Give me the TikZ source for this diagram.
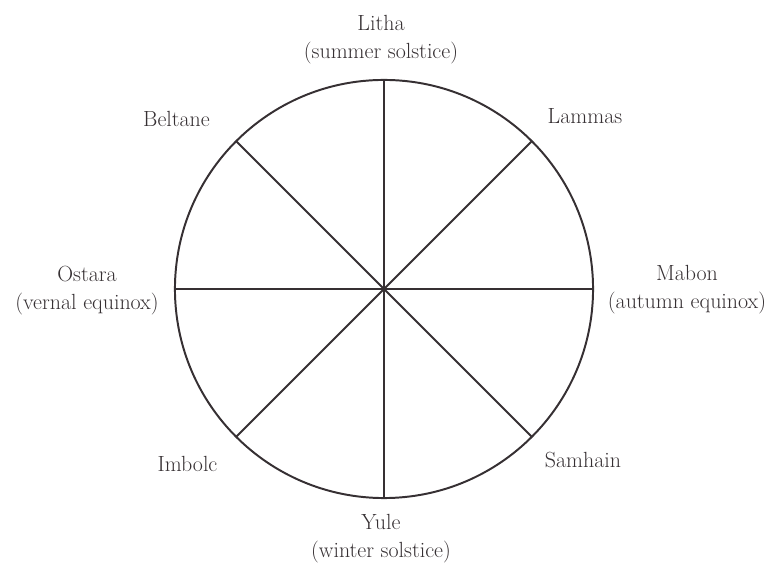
\documentclass[tikz,border=0pt]{standalone}
\usepackage{xcolor}
\usepackage{tikz}
\usetikzlibrary{positioning}
\definecolor{inkgray}{HTML}{363033}
\tikzset{
  wheel/.style={circle, draw=inkgray, line width=1.4pt, inner sep=0pt, outer sep=0pt, minimum size=10.45cm},
  spoke/.style={draw=inkgray, line width=1.4pt},
  sabbat/.style={text=inkgray, align=center, inner sep=0pt, font=\fontsize{15.6}{19.9}\selectfont}
}
\begin{document}
\begin{tikzpicture}[x=0.025cm, y=-0.025cm]
\useasboundingbox (0,0) rectangle (771,563);
\node[wheel] (w) at (384,289) {};

\foreach \a/\b in {0/180, 45/225, 90/270, 135/315}
  \draw[spoke] (w.\a) -- (w.\b);

% two-line labels
\node[sabbat] (litha) at (381,40) {Litha\\(summer solstice)};
\node[sabbat] (ostara) at (87,291) {Ostara\\(vernal equinox)};
\node[sabbat] (mabon) at (687,290) {Mabon\\(autumn equinox)};
\node[sabbat] (yule) at (381,539) {Yule\\(winter solstice)};

% one-line labels
\node[sabbat, anchor=base] (beltane) at (176.5,127) {Beltane};
\node[sabbat, anchor=base] (lammas) at (585,124) {Lammas};
\node[sabbat, anchor=base] (imbolc) at (187.5,472) {Imbolc};
\node[sabbat, anchor=base] (samhain) at (583,468) {Samhain};
\end{tikzpicture}
\end{document}
